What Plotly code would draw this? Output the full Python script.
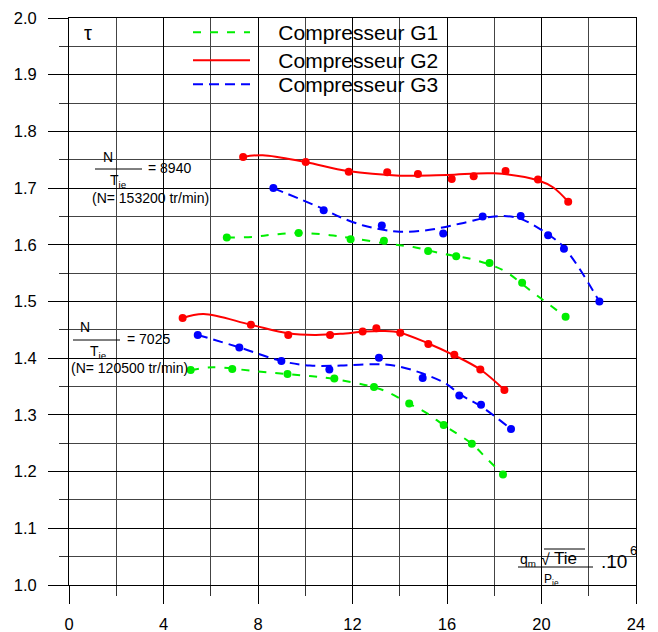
import plotly.graph_objects as go

# ---------------- data ----------------
# Measured points, N/sqrt(Tie) = 8940
g1_hi_x = [6.68, 9.72, 11.92, 13.33, 15.20, 16.39, 17.80, 19.18, 21.02]
g1_hi_y = [1.613, 1.621, 1.610, 1.607, 1.589, 1.580, 1.568, 1.533, 1.473]
g2_hi_x = [7.37, 10.02, 11.84, 13.47, 14.77, 16.20, 17.13, 18.48, 19.85, 21.13]
g2_hi_y = [1.755, 1.746, 1.729, 1.728, 1.725, 1.716, 1.721, 1.730, 1.715, 1.676]
g3_hi_x = [8.65, 10.78, 13.24, 15.84, 17.51, 19.12, 20.28, 20.95, 22.45]
g3_hi_y = [1.700, 1.661, 1.634, 1.620, 1.650, 1.651, 1.617, 1.593, 1.500]

# Measured points, N/sqrt(Tie) = 7025
g1_lo_x = [5.15, 6.91, 9.25, 11.23, 12.91, 14.40, 15.86, 17.05, 18.37]
g1_lo_y = [1.379, 1.381, 1.372, 1.364, 1.349, 1.320, 1.282, 1.249, 1.195]
g2_lo_x = [4.81, 7.70, 9.28, 11.05, 12.43, 13.01, 14.02, 15.21, 16.31, 17.41, 18.43]
g2_lo_y = [1.471, 1.459, 1.441, 1.441, 1.447, 1.453, 1.445, 1.425, 1.406, 1.380, 1.344]
g3_lo_x = [5.45, 7.21, 8.99, 11.02, 13.12, 14.97, 16.52, 17.44, 18.71]
g3_lo_y = [1.441, 1.419, 1.395, 1.380, 1.401, 1.365, 1.334, 1.318, 1.275]

# Smoothed curves as drawn in the picture
c1_hi_x = [6.68, 7.8, 8.65, 9.7, 11.05, 11.92, 13.3, 14.57, 15.85, 17.11, 18.38, 19.51, 21.02]
c1_hi_y = [1.613, 1.614, 1.618, 1.621, 1.617, 1.612, 1.603, 1.596, 1.584, 1.574, 1.555, 1.520, 1.473]
c2_hi_x = [7.37, 8.2, 10.0, 11.8, 14.0, 16.0, 18.0, 19.9, 20.5, 21.13]
c2_hi_y = [1.755, 1.758, 1.746, 1.730, 1.722, 1.723, 1.726, 1.713, 1.701, 1.676]
c3_hi_x = [8.65, 10.77, 11.47, 12.46, 13.24, 14.0, 15.2, 16.83, 17.82, 18.95, 20.22, 21.0, 22.45]
c3_hi_y = [1.700, 1.663, 1.649, 1.634, 1.627, 1.623, 1.626, 1.640, 1.649, 1.648, 1.620, 1.593, 1.500]

c1_lo_x = [5.15, 6.1, 7.9, 9.25, 10.3, 11.25, 12.9, 13.45, 14.4, 15.14, 15.86, 17.05, 17.68, 18.37]
c1_lo_y = [1.379, 1.384, 1.377, 1.372, 1.368, 1.363, 1.349, 1.341, 1.320, 1.303, 1.282, 1.249, 1.223, 1.195]
c2_lo_x = [4.81, 5.7, 7.7, 9.28, 10.4, 11.5, 12.5, 13.3, 14.02, 15.21, 16.31, 17.41, 18.43]
c2_lo_y = [1.471, 1.478, 1.459, 1.444, 1.441, 1.443, 1.447, 1.448, 1.445, 1.426, 1.405, 1.380, 1.344]
c3_lo_x = [5.45, 7.21, 8.99, 10.2, 11.5, 12.5, 13.3, 14.0, 14.97, 16.0, 16.52, 17.44, 18.71]
c3_lo_y = [1.441, 1.419, 1.395, 1.387, 1.387, 1.389, 1.389, 1.385, 1.373, 1.354, 1.337, 1.315, 1.275]

series_names = ["Compresseur G1", "Compresseur G2", "Compresseur G3"]
x_ticks = [0, 4, 8, 12, 16, 20, 24]
y_ticks = [1.0, 1.1, 1.2, 1.3, 1.4, 1.5, 1.6, 1.7, 1.8, 1.9, 2.0]

# ---------------- styling ----------------
GREEN, RED, BLUE = "#00ee00", "#ff0000", "#0000ff"
styles = [
    dict(color=GREEN, dash="8px,9px"),
    dict(color=RED, dash="solid"),
    dict(color=BLUE, dash="10px,6px"),
]
FONT = "Liberation Sans, Arial, sans-serif"

W, H = 658, 632
ML, MR, MT, MB = 69, 22, 18, 47
PH = H - MT - MB


def X(px):
    return (px - ML) / ((W - ML - MR) / 24.0)


def Y(py):
    return 2.0 - (py - MT) / PH


def paper_y(py):
    return 1.0 - (py - MT) / PH


fig = go.Figure()

curves = [
    (c1_hi_x, c1_hi_y, c1_lo_x, c1_lo_y, g1_hi_x, g1_hi_y, g1_lo_x, g1_lo_y),
    (c2_hi_x, c2_hi_y, c2_lo_x, c2_lo_y, g2_hi_x, g2_hi_y, g2_lo_x, g2_lo_y),
    (c3_hi_x, c3_hi_y, c3_lo_x, c3_lo_y, g3_hi_x, g3_hi_y, g3_lo_x, g3_lo_y),
]
legend_ids = ["legend", "legend2", "legend3"]
NBSP = "\u00a0"

for i, (chx, chy, clx, cly, phx, phy, plx, ply) in enumerate(curves):
    st = styles[i]
    for j, (cx, cy) in enumerate([(chx, chy), (clx, cly)]):
        fig.add_trace(go.Scatter(
            x=cx, y=cy, mode="lines",
            line=dict(color=st["color"], dash=st["dash"], width=2, shape="spline", smoothing=1),
            name=NBSP * 4 + series_names[i], legend=legend_ids[i], showlegend=(j == 0),
            hoverinfo="skip",
        ))
    for px_, py_ in [(phx, phy), (plx, ply)]:
        fig.add_trace(go.Scatter(
            x=px_, y=py_, mode="markers",
            marker=dict(color=st["color"], size=8),
            showlegend=False, legend=legend_ids[i],
        ))

annotations = []
shapes = []


def ann(px, py, text, size=14, xanchor="center"):
    annotations.append(dict(x=X(px), y=Y(py), xref="x", yref="y", text=text, showarrow=False,
                            xanchor=xanchor, yanchor="middle",
                            font=dict(family=FONT, size=size, color="black")))


def hline(px0, px1, py):
    shapes.append(dict(type="line", xref="x", yref="y", x0=X(px0), x1=X(px1), y0=Y(py), y1=Y(py),
                       line=dict(color="black", width=1)))


ann(88, 33, "τ", 20)
# upper speed label
ann(108, 157, "N", 14)
hline(95, 142, 169)
ann(146, 168, "= 8940", 14, "left")
ann(118, 181, "T<sub>ie</sub>", 14)
ann(150, 198, "(N= 153200 tr/min)", 14)
# lower speed label
ann(85, 327, "N", 14)
hline(73, 120, 340)
ann(125, 339, "= 7025", 14, "left")
ann(98, 352, "T<sub>ie</sub>", 14)
ann(129, 368, "(N= 120500 tr/min)", 14)
# x-axis quantity
ann(518, 560, "q<sub>m</sub>", 14, "left")
ann(539, 559, "√", 16, "left")
ann(552, 558, "Tie", 17, "left")
hline(544, 585, 549)
hline(518, 593, 567)
ann(542, 580, "P<sub>ie</sub>", 12, "left")
ann(599, 561, ".10", 19, "left")
ann(633, 550, "6", 13)

leg_common = dict(xanchor="left", yanchor="top", bgcolor="rgba(0,0,0,0)",
                  font=dict(family=FONT, size=21, color="black"), itemwidth=57)
LX = X(188) / 24.0

fig.update_layout(
    width=W, height=H,
    margin=dict(l=ML, r=MR, t=MT, b=MB, autoexpand=False),
    paper_bgcolor="white", plot_bgcolor="white",
    font=dict(family=FONT, size=16, color="black"),
    showlegend=True,
    legend=dict(x=LX, y=paper_y(12), **leg_common),
    legend2=dict(x=LX, y=paper_y(40), **leg_common),
    legend3=dict(x=LX, y=paper_y(64), **leg_common),
    annotations=annotations,
    shapes=shapes,
    xaxis=dict(range=[0, 24], tickvals=x_ticks, ticktext=[str(v) for v in x_ticks],
               ticks="outside", ticklen=18, tickcolor="black", tickwidth=1, automargin=False,
               showgrid=True, gridcolor="black", gridwidth=1, zeroline=False,
               showline=True, linecolor="black", mirror=True,
               tickfont=dict(family=FONT, size=16.5, color="black"), ticklabelstandoff=6,
               minor=dict(dtick=2, ticks="outside", ticklen=10, tickcolor="#333",
                          showgrid=True, gridcolor="#444", gridwidth=1)),
    yaxis=dict(range=[1.0, 2.0], tickvals=y_ticks, ticktext=[f"{v:.1f}" for v in y_ticks],
               ticks="outside", ticklen=20, tickcolor="black", tickwidth=1, automargin=False,
               showgrid=True, gridcolor="black", gridwidth=1, zeroline=False,
               showline=True, linecolor="black", mirror=True,
               tickfont=dict(family=FONT, size=16.5, color="black"), ticklabelstandoff=8,
               minor=dict(dtick=0.05, ticks="outside", ticklen=9, tickcolor="#333",
                          showgrid=True, gridcolor="#444", gridwidth=1)),
)

fig.write_html("out.html")
